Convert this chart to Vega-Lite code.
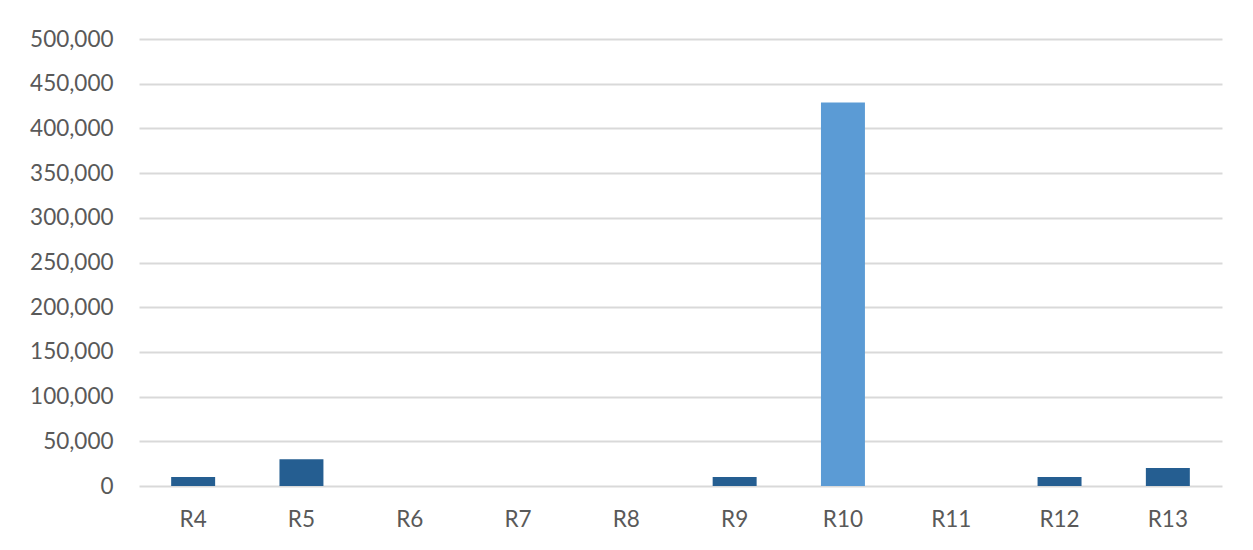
{
  "$schema": "https://vega.github.io/schema/vega-lite/v6.json",
  "width": 1253,
  "height": 550,
  "autosize": {"type": "fit", "contains": "padding"},
  "padding": {"left": 29, "top": 28, "right": 31, "bottom": 19},
  "background": "white",
  "config": {
    "view": {"stroke": null},
    "font": "Lato",
    "axis": {"labelFont": "Lato", "labelColor": "#595959", "labelFontSize": 22.5, "domain": false, "ticks": false}
  },
  "data": {
    "values": [
      {"region": "R4", "value": 10000},
      {"region": "R5", "value": 30000},
      {"region": "R6", "value": 0},
      {"region": "R7", "value": 0},
      {"region": "R8", "value": 0},
      {"region": "R9", "value": 10000},
      {"region": "R10", "value": 429000},
      {"region": "R11", "value": 0},
      {"region": "R12", "value": 10000},
      {"region": "R13", "value": 20000}
    ]
  },
  "mark": {"type": "bar"},
  "encoding": {
    "x": {
      "field": "region",
      "type": "nominal",
      "sort": null,
      "scale": {"paddingInner": 0.594, "paddingOuter": 0.297},
      "axis": {"title": null, "labelAngle": 0, "labelPadding": 22, "grid": false}
    },
    "y": {
      "field": "value",
      "type": "quantitative",
      "scale": {"domain": [0, 500000]},
      "axis": {
        "title": null,
        "values": [0, 50000, 100000, 150000, 200000, 250000, 300000, 350000, 400000, 450000, 500000],
        "format": ",d",
        "labelPadding": 26,
        "gridColor": "#d9d9d9",
        "gridWidth": 2
      }
    },
    "color": {
      "condition": {"test": "datum.region === 'R10'", "value": "#5B9BD5"},
      "value": "#255E91"
    }
  }
}
